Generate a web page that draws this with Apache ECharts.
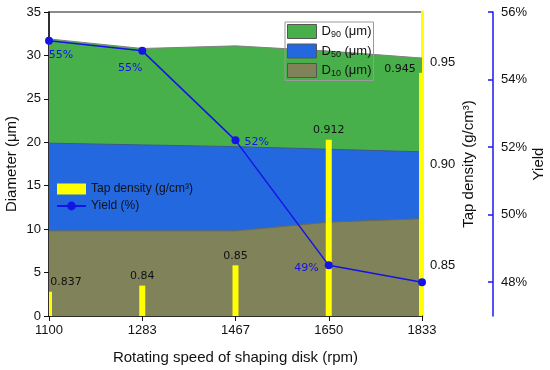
<!DOCTYPE html>
<html><head><meta charset="utf-8">
<script src="https://cdn.jsdelivr.net/npm/echarts@6/dist/echarts.min.js"></script>
<style>html,body{margin:0;padding:0;background:#fff}#c{width:550px;height:370px}</style>
</head><body><div id="c"></div>
<script>
var categories = ['1100', '1283', '1467', '1650', '1833'];
var d90 = [31.9, 30.8, 31.1, 30.5, 29.7];
var d50 = [19.9, 19.7, 19.5, 19.2, 18.9];
var d10 = [9.8, 9.8, 9.8, 10.8, 11.2];
var tapDensity = [0.837, 0.84, 0.85, 0.912, 0.945];
var yieldPct = [55.15, 54.85, 52.2, 48.5, 48.0];
var leftTicks = [0, 5, 10, 15, 20, 25, 30, 35];
var tapTicks = [0.85, 0.90, 0.95];
var yieldTicks = [48, 50, 52, 54, 56];
var tapMin = 0.825, tapMax = 0.975;

var FONT = 'Liberation Sans';
var chart = echarts.init(document.getElementById('c'), null, {renderer: 'canvas'});

var tapLabelOffsets = [[17, 0], [0, 0], [0, 0], [0, 0], [-22, 6]];
var yieldLabelCfg = [
  {position: 'bottom', offset: [12, 0]},
  {position: 'bottom', offset: [-12, 3]},
  {position: 'right', offset: [0, 2]},
  {position: 'left', offset: [-1, 3]},
  {show: false}
];

var sub = {
  a: {fontSize: 13, fontFamily: FONT, color: '#111'},
  s: {fontSize: 9, fontFamily: FONT, color: '#111', padding: [7, 0, 0, 0]}
};

function renderBar(params, api) {
  var i = api.value(0), v = api.value(1);
  var top = api.coord([i, v]);
  var base = api.coord([i, tapMin]);
  var cs = params.coordSys;
  var bw = 6;
  var rect = echarts.graphic.clipRectByRect(
    {x: top[0] - bw / 2, y: top[1], width: bw, height: base[1] - top[1]},
    {x: cs.x, y: cs.y, width: cs.width, height: cs.height}
  );
  var off = tapLabelOffsets[params.dataIndex];
  var children = [];
  if (rect) {
    children.push({type: 'rect', shape: rect, style: {fill: '#FFFF00'}});
  }
  children.push({
    type: 'text',
    style: {
      text: String(v), x: top[0] + off[0], y: top[1] - 4 + off[1],
      align: 'center', verticalAlign: 'bottom',
      font: '11px "DejaVu Sans"', fill: '#111'
    }
  });
  return {type: 'group', children: children};
}

chart.setOption({
  animation: false,
  textStyle: {fontFamily: FONT},
  grid: {left: 49, right: 128, top: 12, bottom: 54, show: true, borderColor: '#666', borderWidth: 1.5,
    backgroundColor: 'transparent', containLabel: false, outerBoundsMode: 'none'},
  legend: [{
    orient: 'vertical', left: 285, top: 22,
    padding: [2, 2, 2, 2], itemGap: 4, itemWidth: 29, itemHeight: 14,
    borderColor: '#999', borderWidth: 1,
    data: [{name: 'D90', icon: 'rect'}, {name: 'D50', icon: 'rect'}, {name: 'D10', icon: 'rect'}],
    itemStyle: {borderColor: '#555', borderWidth: 1},
    formatter: function (n) { return '{a|D}{s|' + n.slice(1) + '}{a| (μm)}'; },
    textStyle: {rich: sub}
  }, {
    orient: 'vertical', left: 56, top: 183,
    padding: 0, itemGap: 5, itemWidth: 29, itemHeight: 11,
    data: [{name: 'Tap density (g/cm³)', icon: 'rect', itemStyle: {color: '#FFFF00'}}, {name: 'Yield (%)'}],
    textStyle: {fontSize: 12, color: '#111', fontFamily: FONT}
  }],
  xAxis: {
    type: 'category', data: categories, boundaryGap: false,
    axisLine: {lineStyle: {color: '#111', width: 1.5}},
    axisTick: {show: true, inside: false, length: 5, lineStyle: {color: '#111'}},
    axisLabel: {fontSize: 13, color: '#111', margin: 8},
    splitLine: {show: false},
    name: 'Rotating speed of shaping disk (rpm)', nameLocation: 'middle', nameGap: 34,
    nameTextStyle: {fontSize: 15, color: '#111'}
  },
  yAxis: [{
    type: 'value', min: 0, max: 35, interval: 5, position: 'left',
    axisLine: {show: true, lineStyle: {color: '#111', width: 1.5}},
    axisTick: {show: true, length: 5, lineStyle: {color: '#111'}},
    axisLabel: {fontSize: 13, color: '#111', margin: 8, customValues: leftTicks},
    splitLine: {show: false},
    name: 'Diameter (μm)', nameLocation: 'middle', nameGap: 30, nameMoveOverlap: false,
    nameTextStyle: {fontSize: 15, color: '#111'}
  }, {
    type: 'value', min: tapMin, max: tapMax, position: 'right', offset: 0,
    axisLine: {show: true, onZero: false, lineStyle: {color: '#FFFF00', width: 3}},
    axisTick: {show: true, inside: true, length: 4, lineStyle: {color: '#E6E600', width: 1.5}, customValues: tapTicks},
    axisLabel: {fontSize: 13, color: '#111', margin: 8, customValues: tapTicks,
      formatter: function (v) { return v.toFixed(2); }},
    splitLine: {show: false},
    name: 'Tap density (g/cm³)', nameLocation: 'middle', nameGap: 39, nameMoveOverlap: false,
    nameTextStyle: {fontSize: 15, color: '#111'}
  }, {
    type: 'value', min: 47, max: 56, position: 'right', offset: 71,
    axisLine: {show: true, onZero: false, lineStyle: {color: '#1A1AF0', width: 1.5}},
    axisTick: {show: true, inside: true, length: 5, lineStyle: {color: '#1A1AF0', width: 1.5}, customValues: yieldTicks},
    axisLabel: {fontSize: 13, color: '#111', margin: 8, customValues: yieldTicks,
      formatter: function (v) { return v + '%'; }},
    splitLine: {show: false},
    name: 'Yield', nameLocation: 'middle', nameGap: 38, nameMoveOverlap: false,
    nameTextStyle: {fontSize: 15, color: '#111'}
  }],
  series: [{
    name: 'D90', type: 'line', data: d90, yAxisIndex: 0, symbol: 'none',
    itemStyle: {color: '#48B04B'},
    lineStyle: {color: '#808080', width: 1},
    areaStyle: {color: '#48B04B', opacity: 1}, z: 1
  }, {
    name: 'D50', type: 'line', data: d50, yAxisIndex: 0, symbol: 'none',
    itemStyle: {color: '#2468E0'},
    lineStyle: {color: '#3a5a8a', width: 1},
    areaStyle: {color: '#2468E0', opacity: 1}, z: 2
  }, {
    name: 'D10', type: 'line', data: d10, yAxisIndex: 0, symbol: 'none',
    itemStyle: {color: '#80825A'},
    lineStyle: {color: '#6b6b55', width: 1},
    areaStyle: {color: '#80825A', opacity: 1}, z: 3
  }, {
    name: 'Tap density (g/cm³)', type: 'custom', yAxisIndex: 1, z: 4,
    itemStyle: {color: '#FFFF00'},
    renderItem: renderBar,
    encode: {x: 0, y: 1},
    data: tapDensity.map(function (v, i) { return [i, v]; })
  }, {
    name: 'Yield (%)', type: 'line', yAxisIndex: 2, z: 5,
    symbol: 'circle', symbolSize: 8,
    itemStyle: {color: '#1414E6'},
    lineStyle: {color: '#1414E6', width: 1.5},
    data: yieldPct.map(function (v, i) {
      return {value: v, label: yieldLabelCfg[i]};
    }),
    label: {show: true, fontSize: 11, color: '#1414E6', fontFamily: 'DejaVu Sans',
      formatter: function (p) { return Math.round(p.value) + '%'; }}
  }]
});
</script></body></html>
